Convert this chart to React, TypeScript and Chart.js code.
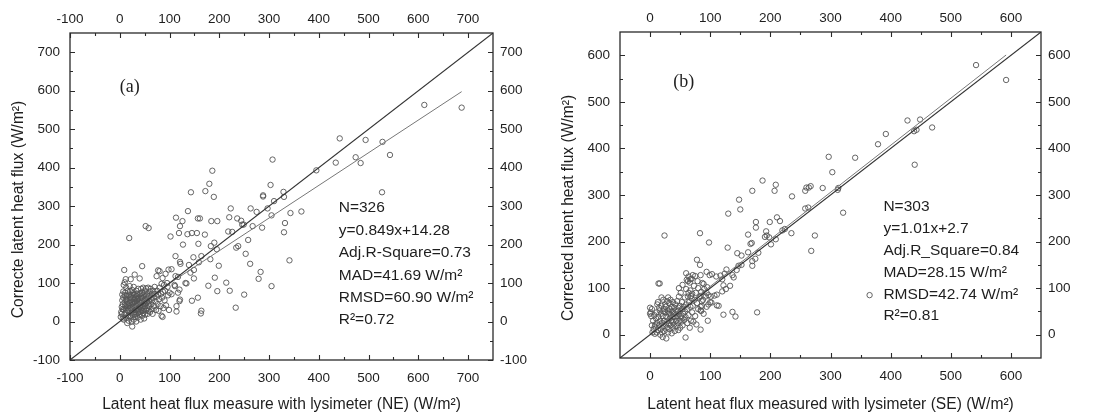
import React, { useEffect, useRef } from "react";
import { Chart, registerables } from "chart.js";

Chart.register(...registerables);

// ---------- Panel (a): NE lysimeter ----------
const NE_TICKS = [-100, 0, 100, 200, 300, 400, 500, 600, 700];
const NE_MINOR = [-50, 50, 150, 250, 350, 450, 550, 650];
const NE_RANGE = [-100, 750];
const NE_STATS = ["N=326", "y=0.849x+14.28", "Adj.R-Square=0.73", "MAD=41.69 W/m²", "RMSD=60.90 W/m²", "R²=0.72"];
const NE_FIT = { slope: 0.849, intercept: 14.28, from: 0, to: 687 };

const NE_CLUSTER: [number, number][] = [
  [2, 12], [3, 25], [4, 38], [5, 55], [5, 70], [6, 8], [6, 45], [7, 62], [7, 78], [8, 95], [8, 30], [9, 18], [9, 134], [10, 102], [10, 50], [10, 68], [4, 20], [6, 32], [8, 5],
  [11, 40], [11, 75], [12, 22], [12, 58], [13, 10], [13, 88], [14, 45], [14, 66], [15, 30], [15, -4], [16, 52], [16, 80], [17, 15], [17, 36], [18, 70], [18, 2], [19, 217], [19, 48], [20, 25], [20, 60], [20, 92], [12, 110],
  [21, 35], [21, 78], [22, 10], [22, 55], [23, 42], [23, 68], [24, 0], [24, 28], [25, -13], [25, 50], [25, 82], [26, 18], [26, 62], [27, 38], [27, 74], [28, 5], [28, 47], [29, 24], [29, 58], [30, 70], [30, 122], [30, 35], [22, 110], [28, 90],
  [31, 12], [31, 48], [32, 30], [32, 62], [33, 80], [33, 0], [34, 40], [34, 20], [35, 55], [35, 72], [36, 28], [36, 10], [37, 45], [37, 85], [38, 60], [38, 33], [39, 18], [39, 50], [40, 70], [40, 38], [40, 112],
  [41, 25], [41, 58], [42, 5], [42, 42], [43, 66], [43, 85], [44, 30], [44, 50], [45, 144], [45, 15], [45, 75], [46, 38], [46, 60], [47, 22], [47, 88], [48, 48], [48, 70], [49, 32], [49, 8], [50, 55], [50, 80],
  [51, 40], [51, 18], [52, 248], [52, 65], [53, 28], [53, 86], [54, 50], [55, 72], [55, 35], [56, 20], [56, 60], [57, 44], [57, 88], [58, 243], [58, 28], [59, 66], [59, 52], [60, 78], [60, 40],
  [61, 25], [62, 60], [62, 85], [63, 45], [64, 70], [65, 32], [65, 55], [66, 20], [67, 80], [68, 62], [69, 40], [70, 72], [70, 90],
  [72, 52], [73, 30], [74, 118], [74, 65], [75, 80], [76, 45], [77, 133], [77, 70], [78, 28], [79, 58], [80, 131], [80, 88],
  [82, 40], [83, 72], [84, 98], [84, 15], [85, 62], [86, 12], [86, 113], [87, 77], [88, 35], [89, 95], [90, 55], [91, 80], [92, 124], [93, 42], [95, 100], [96, 90], [97, 68], [98, 135], [99, 30], [100, 75],
  [14, 56], [18, 40], [22, 64], [26, 44], [30, 52], [34, 66], [38, 24], [42, 74], [46, 28], [50, 46], [16, 28], [24, 36], [28, 70], [32, 18], [36, 58], [40, 48], [44, 62], [48, 40], [52, 54], [20, 14], [12, 34], [26, 30], [34, 52], [42, 34], [56, 68],
];

const NE_SPREAD: [number, number][] = [
  [687, 556], [612, 563], [528, 467], [543, 433], [494, 472], [442, 476], [474, 427], [484, 412], [434, 413], [395, 393], [527, 336],
  [307, 421], [303, 355], [329, 337], [330, 324], [310, 313], [288, 328], [288, 325], [297, 294], [305, 276], [365, 286], [343, 282], [332, 256], [330, 232], [341, 159],
  [275, 285], [263, 294], [267, 248], [286, 244], [258, 212], [253, 176], [262, 150], [283, 129], [279, 111], [305, 92], [250, 70], [233, 36],
  [223, 294], [220, 271], [218, 234], [236, 268], [244, 262], [246, 252], [249, 252], [226, 233], [238, 196], [234, 192], [214, 101], [221, 80],
  [196, 79], [178, 93], [199, 145], [191, 114], [195, 188], [190, 205], [183, 196], [182, 162], [164, 170], [159, 154], [171, 226], [196, 261], [184, 261],
  [161, 268], [157, 268], [155, 230], [145, 230], [136, 227], [137, 287], [143, 336], [172, 339], [180, 358], [189, 324], [186, 392], [158, 202],
  [127, 200], [126, 261], [121, 248], [119, 230], [113, 270], [102, 221], [112, 170], [121, 155], [122, 150], [139, 147], [148, 167], [149, 134], [149, 112], [142, 127],
  [145, 54], [157, 62], [164, 28], [163, 21], [132, 100], [134, 99], [121, 57], [120, 53], [114, 26], [114, 40], [120, 83], [117, 75], [111, 92], [104, 71], [112, 118], [110, 95], [117, 116], [104, 136],
];

// ---------- Panel (b): SE lysimeter ----------
const SE_TICKS = [0, 100, 200, 300, 400, 500, 600];
const SE_MINOR = [50, 150, 250, 350, 450, 550];
const SE_RANGE = [-50, 650];
const SE_STATS = ["N=303", "y=1.01x+2.7", "Adj.R_Square=0.84", "MAD=28.15 W/m²", "RMSD=42.74 W/m²", "R²=0.81"];
const SE_FIT = { slope: 1.01, intercept: 2.7, from: 0, to: 592 };

const SE_CLUSTER: [number, number][] = [
  [0, 58], [0, 45], [1, 48], [2, 40], [3, 20], [4, 5], [5, 30], [6, 12], [7, 42], [8, 2], [9, 22], [10, 35], [3, 55], [8, 18],
  [11, 48], [11, 5], [12, 25], [12, 65], [13, 10], [14, 38], [15, 20], [16, 52], [17, 0], [17, 30], [18, 45], [18, 12], [19, 80], [19, 62], [20, 25], [20, 5], [13, 70], [15, 58],
  [21, 40], [21, -5], [22, 75], [22, 18], [23, 55], [23, 30], [24, 8], [25, 48], [25, 65], [26, 22], [27, -8], [27, 38], [28, 72], [28, 15], [29, 52], [29, 30], [30, 80], [30, 5], [22, 50], [26, 60],
  [31, 45], [31, 25], [32, 68], [32, 12], [33, 35], [33, 55], [34, 20], [34, 75], [35, 42], [36, 3], [36, 60], [37, 28], [37, 50], [38, 15], [38, 70], [39, 38], [40, 58], [40, 22], [32, 48], [35, 30],
  [41, 45], [41, 8], [42, 65], [43, 30], [43, 52], [44, 18], [45, 40], [45, 72], [46, 25], [47, 58], [47, 10], [48, 45], [48, 82], [49, 30], [50, 62], [50, 15], [42, 38], [46, 50],
  [51, 90], [51, 40], [52, 28], [53, 55], [53, 70], [54, 20], [55, 45], [56, 60], [57, 32], [58, 80], [58, 50], [59, 38], [60, 65], [54, 35],
  [61, 118], [62, 25], [62, 55], [63, 82], [64, 42], [65, 70], [66, 112], [66, 15], [67, 95], [67, 60], [68, 30], [69, 120], [69, 78], [70, 48], [70, 88],
  [71, 62], [72, 28], [73, 105], [74, 75], [75, 40], [76, 90], [77, 22], [78, 68], [79, 115], [80, 55], [80, 100], [82, 80], [84, 52], [84, 128], [85, 92], [86, 62],
  [88, 75], [89, 45], [90, 98], [92, 82], [94, 60], [95, 102], [97, 85], [99, 128], [100, 70],
];

const SE_SPREAD: [number, number][] = [
  [592, 547], [542, 579], [428, 460], [449, 462], [469, 445], [439, 437], [443, 440], [440, 365], [392, 431], [379, 409], [341, 380],
  [297, 382], [303, 349], [313, 315], [312, 311], [321, 262], [287, 315], [267, 319], [264, 316], [260, 316], [258, 309], [258, 271], [263, 273],
  [236, 297], [235, 218], [274, 213], [268, 180], [365, 85], [209, 322], [207, 309], [187, 331], [170, 309], [148, 290], [150, 269], [130, 260],
  [211, 252], [216, 244], [199, 242], [176, 242], [176, 230], [193, 222], [194, 213], [198, 209], [191, 210], [209, 205], [201, 194], [220, 224], [224, 227],
  [163, 215], [167, 195], [169, 197], [98, 198], [83, 218], [24, 213], [129, 187], [145, 175], [152, 170], [170, 158], [163, 177], [175, 163], [180, 176],
  [170, 148], [147, 148], [152, 150], [144, 139], [137, 128], [139, 123], [127, 140], [124, 131], [117, 127], [120, 119], [122, 106], [133, 105], [126, 98],
  [120, 93], [111, 86], [107, 84], [101, 82], [94, 90], [102, 69], [111, 63], [114, 62], [97, 65], [96, 30], [122, 43], [137, 49], [142, 39], [178, 48],
  [84, 11], [59, -6], [78, 161], [83, 150], [94, 135], [103, 130], [110, 125], [87, 111], [89, 109], [60, 132], [64, 125], [71, 128], [75, 126],
  [63, 115], [67, 119], [54, 107], [60, 98], [48, 100], [64, 90], [68, 83], [84, 83], [86, 72], [84, 60], [85, 51], [14, 110], [16, 110],
];

type Panel = {
  label: string;
  xTitle: string;
  yTitle: string;
  range: number[];
  ticks: number[];
  minor: number[];
  points: [number, number][];
  fit: { slope: number; intercept: number; from: number; to: number };
  stats: string[];
  statsAt: [number, number];
  labelAt: [number, number];
  lineGap: number;
  box: { w: number; left: number; right: number; top: number; bottom: number };
};

// trailing spaces keep the rotated title centred slightly below the plot middle, as in the source
const PAD = "      ";

const PANELS: Panel[] = [
  {
    label: "(a)",
    xTitle: "Latent heat flux measure with lysimeter (NE) (W/m²)",
    yTitle: "Correcte latent heat flux (W/m²)" + PAD,
    range: NE_RANGE,
    ticks: NE_TICKS,
    minor: NE_MINOR,
    points: [...NE_CLUSTER, ...NE_SPREAD],
    fit: NE_FIT,
    stats: NE_STATS,
    statsAt: [440, 295],
    labelAt: [20, 610],
    lineGap: 22.4,
    box: { w: 550, left: 70, right: 57, top: 33, bottom: 54 },
  },
  {
    label: "(b)",
    xTitle: "Latent heat flux measured with lysimeter (SE) (W/m²)",
    yTitle: "Corrected latent heat flux (W/m²)" + PAD,
    range: SE_RANGE,
    ticks: SE_TICKS,
    minor: SE_MINOR,
    points: [...SE_CLUSTER, ...SE_SPREAD],
    fit: SE_FIT,
    stats: SE_STATS,
    statsAt: [388, 275],
    labelAt: [56, 541],
    lineGap: 21.9,
    box: { w: 553, left: 70, right: 62, top: 32, bottom: 56 },
  },
];

const FONT = '"Liberation Sans", Arial, sans-serif';
const INK = "#1e1e1e";

function decorPlugin(p: Panel) {
  return {
    id: "decor",
    afterDraw(chart: any) {
      const ctx = chart.ctx as CanvasRenderingContext2D;
      const { left, right, top, bottom } = chart.chartArea;
      const xs = chart.scales.x;
      const ys = chart.scales.y;
      ctx.save();
      ctx.strokeStyle = "#2a2a2a";
      ctx.lineWidth = 1.3;
      ctx.strokeRect(left, top, right - left, bottom - top);
      const tick = (vals: number[], len: number) => {
        for (const v of vals) {
          const px = Math.round(xs.getPixelForValue(v)) + 0.5;
          ctx.beginPath();
          ctx.moveTo(px, bottom); ctx.lineTo(px, bottom - len);
          ctx.moveTo(px, top); ctx.lineTo(px, top + len);
          ctx.stroke();
          const py = Math.round(ys.getPixelForValue(v)) + 0.5;
          ctx.beginPath();
          ctx.moveTo(left, py); ctx.lineTo(left + len, py);
          ctx.moveTo(right, py); ctx.lineTo(right - len, py);
          ctx.stroke();
        }
      };
      ctx.lineWidth = 1.1;
      tick(p.ticks, 5);
      tick(p.minor, 3);

      ctx.fillStyle = INK;
      ctx.font = `15.5px ${FONT}`;
      ctx.textAlign = "left";
      ctx.textBaseline = "middle";
      const tx = xs.getPixelForValue(p.statsAt[0]);
      const ty = ys.getPixelForValue(p.statsAt[1]);
      p.stats.forEach((t, i) => ctx.fillText(t, tx, ty + i * p.lineGap));

      ctx.font = `18px "Liberation Serif", "Times New Roman", serif`;
      ctx.textAlign = "center";
      ctx.fillText(p.label, xs.getPixelForValue(p.labelAt[0]), ys.getPixelForValue(p.labelAt[1]));
      ctx.restore();
    },
  };
}

function PanelChart({ p }: { p: Panel }) {
  const ref = useRef<HTMLCanvasElement | null>(null);
  useEffect(() => {
    if (!ref.current) return;
    const [lo, hi] = p.range;
    const setTicks = (s: any) => {
      s.ticks = p.ticks.map((v) => ({ value: v }));
    };
    const tickFont = { family: FONT, size: 13.5 };
    const base = (pos: string, padding: number, fit: (s: any) => void, title?: string, titlePad?: any) => ({
      type: "linear",
      position: pos,
      min: lo,
      max: hi,
      afterBuildTicks: setTicks,
      afterFit: fit,
      grid: { display: false, drawTicks: false },
      border: { display: false },
      ticks: { padding, font: tickFont, color: INK },
      title: title
        ? { display: true, text: title, color: INK, font: { family: FONT, size: 15.6 }, padding: titlePad }
        : { display: false },
    });
    const chart = new Chart(ref.current, {
      type: "scatter",
      data: {
        datasets: [
          {
            type: "line",
            data: [{ x: lo, y: lo }, { x: hi, y: hi }],
            borderColor: "#333",
            borderWidth: 1.1,
            pointRadius: 0,
            fill: false,
            order: 1,
          },
          {
            type: "line",
            data: [
              { x: p.fit.from, y: p.fit.slope * p.fit.from + p.fit.intercept },
              { x: p.fit.to, y: p.fit.slope * p.fit.to + p.fit.intercept },
            ],
            borderColor: "#777",
            borderWidth: 1,
            pointRadius: 0,
            fill: false,
            order: 2,
          },
          {
            type: "scatter",
            data: p.points.map(([x, y]) => ({ x, y })),
            pointRadius: 2.7,
            pointBorderWidth: 0.9,
            pointBorderColor: "#555",
            pointBackgroundColor: "rgba(0,0,0,0)",
            order: 3,
          },
        ],
      } as any,
      options: {
        animation: false,
        responsive: false,
        maintainAspectRatio: false,
        layout: { padding: 0 },
        plugins: { legend: { display: false }, tooltip: { enabled: false } },
        scales: {
          x: base("bottom", 10, (s) => { s.height = p.box.bottom; }, p.xTitle, { top: 0, bottom: 0 }),
          x2: base("top", 6, (s) => { s.height = p.box.top; }),
          y: base("left", 10, (s) => { s.width = p.box.left; }, p.yTitle, { top: 9, bottom: 0 }),
          y2: base("right", 7, (s) => { s.width = p.box.right; }),
        } as any,
      },
      plugins: [decorPlugin(p)],
    });
    return () => chart.destroy();
  }, [p]);
  return <canvas ref={ref} width={p.box.w} height={414} style={{ display: "block", width: p.box.w, height: 414 }} />;
}

export default function App() {
  return (
    <div style={{ position: "fixed", left: 0, top: 0, width: 1103, height: 414, background: "#fff", display: "flex" }}>
      {PANELS.map((p) => (
        <PanelChart key={p.label} p={p} />
      ))}
    </div>
  );
}
